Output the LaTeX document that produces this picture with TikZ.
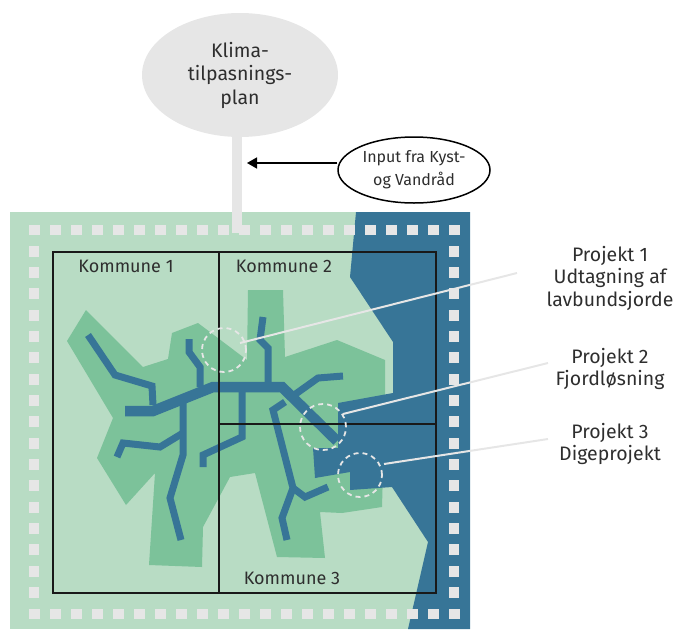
\documentclass[tikz,border=0pt]{standalone}
\usepackage{fontspec}
\setmainfont{Fira Sans}
\usetikzlibrary{shapes.geometric,arrows.meta}
\definecolor{lightgreen}{HTML}{B8DCC4}
\definecolor{midgreen}{HTML}{7CC29A}
\definecolor{seablue}{HTML}{377597}
\definecolor{palegrey}{HTML}{E6E6E6}
\definecolor{inkgrey}{HTML}{2E2E2E}
\begin{document}
\begin{tikzpicture}[x=1pt,y=-1pt,
  river/.style={seablue,line width=7pt,line join=miter,line cap=butt},
  trunk/.style={seablue,line width=10.5pt,line join=miter,line cap=butt},
  spot/.style={circle,draw=palegrey,dashed,dash pattern=on 5pt off 4pt,line width=1.8pt,minimum size=#1,inner sep=0pt},
  leader/.style={palegrey,line width=2pt},
  komtext/.style={text=inkgrey,font=\fontsize{18}{22}\selectfont,inner sep=0pt},
  prjtext/.style={text=inkgrey,font=\fontsize{19.5}{22.5}\selectfont,align=center,inner sep=0pt},
  hsq/.style={fill=palegrey,minimum width=11pt,minimum height=10pt,inner sep=0pt,draw=none},
  vsq/.style={fill=palegrey,minimum width=10pt,minimum height=11pt,inner sep=0pt,draw=none}]
\useasboundingbox (0,0) rectangle (679,629);
% background
\fill[lightgreen] (10,212) rectangle (470,629);
% land
\fill[midgreen] (86,310) -- (143,367) -- (168,359) -- (172,333) -- (198,323) -- (247,360) -- (248,290) -- (283,290) -- (285,357) -- (337,340) -- (385,360) -- (385,400) -- (382,507) -- (342,513) -- (320,512) -- (325,558) -- (277,557) -- (255,473) -- (230,477) -- (203,527) -- (202,567) -- (149,565) -- (155,473) -- (126,505) -- (97,458) -- (113,418) -- (67,341) -- cycle;
% sea
\fill[seablue] (356,212) -- (350,277) -- (393,342) -- (393,393) -- (338,403) -- (338,448) -- (313,448) -- (315,478) -- (350,472) -- (350,490) -- (392,487) -- (428,542) -- (408,629) -- (470,629) -- (470,212) -- cycle;
% rivers
\draw[river] (88,335) -- (115,375) -- (152,386) -- (153,405);
\draw[river] (189,339) -- (189,352) -- (200,367) -- (200,387);
\draw[river] (183,395) -- (183,455) -- (170,498) -- (181,540);
\draw[river] (183,433) -- (160,447) -- (123,443) -- (117,457);
\draw[river] (203,467) -- (203,455) -- (242,437) -- (242,387);
\draw[river] (263,317) -- (260,340) -- (268,348) -- (268,387);
\draw[river] (290,398) -- (318,378) -- (343,376);
\draw[river] (285,402) -- (273,410) -- (293,488) -- (282,518) -- (287,540);
\draw[river] (293,488) -- (305,497) -- (328,487);
\draw[trunk] (125,411) -- (153,411) -- (213,387) -- (282,387) -- (337,441);
% dashed frame
\foreach \i in {0,...,20} {
  \node[hsq] (top\i) at ({34+21*\i},230) {};
  \node[hsq] (bot\i) at ({34+21*\i},614) {};
}
\foreach \j in {1,...,17} {
  \node[vsq] (lft\j) at (34,{230+21.33*\j}) {};
  \node[vsq] (rgt\j) at (454,{230+21.33*\j}) {};
}
% municipality grid
\draw[black!90,line width=1.3pt] (53,252) rectangle (436,593);
\draw[black!90,line width=1.3pt] (219,252) -- (219,593);
\draw[black!90,line width=1.3pt] (219,424) -- (436,424);
\node[komtext] (k1) at (126,266) {Kommune 1};
\node[komtext] (k2) at (284,266) {Kommune 2};
\node[komtext] (k3) at (292,578) {Kommune 3};
% project spots
\node[spot=44pt] (c1) at (224,350) {};
\node[spot=46pt] (c2) at (323,427) {};
\node[spot=44pt] (c3) at (360,475) {};
% labels
\node[prjtext] (p1) at (610,278) {Projekt 1\\Udtagning af\\lavbundsjorde};
\node[prjtext] (p2) at (610,369) {Projekt 2\\Fjordløsning};
\node[prjtext] (p3) at (610,444) {Projekt 3\\Digeprojekt};
\coordinate (l1a) at (517,273);
\coordinate (l1b) at (240,343);
\coordinate (l2a) at (548,363);
\coordinate (l2b) at (343,414);
\coordinate (l3a) at (548,439);
\coordinate (l3b) at (384,464);
\draw[leader] (l1a) -- (l1b);
\draw[leader] (l2a) -- (l2b);
\draw[leader] (l3a) -- (l3b);
% plan
\coordinate (stemtop) at (237,120);
\coordinate (stembase) at (237,233);
\draw[palegrey,line width=10pt] (stemtop) -- (stembase);
\node[ellipse,fill=palegrey,minimum width=196pt,minimum height=124pt,inner sep=0pt,
  align=center,text=inkgrey,font=\fontsize{19.5}{23.5}\selectfont] (plan) at (240,75) {Klima-\\tilpasnings-\\plan};
\node[ellipse,draw=black,fill=white,line width=1.5pt,minimum width=152pt,minimum height=66pt,inner sep=0pt,
  align=center,text=inkgrey,font=\fontsize{16}{23}\selectfont] (input) at (414,170) {Input fra Kyst-\\og Vandråd};
\coordinate (arrowtip) at (247,163);
\draw[black,line width=1.5pt,-{Triangle[length=10pt,width=11pt]}] (input.west |- arrowtip) -- (arrowtip);
\end{tikzpicture}
\end{document}
